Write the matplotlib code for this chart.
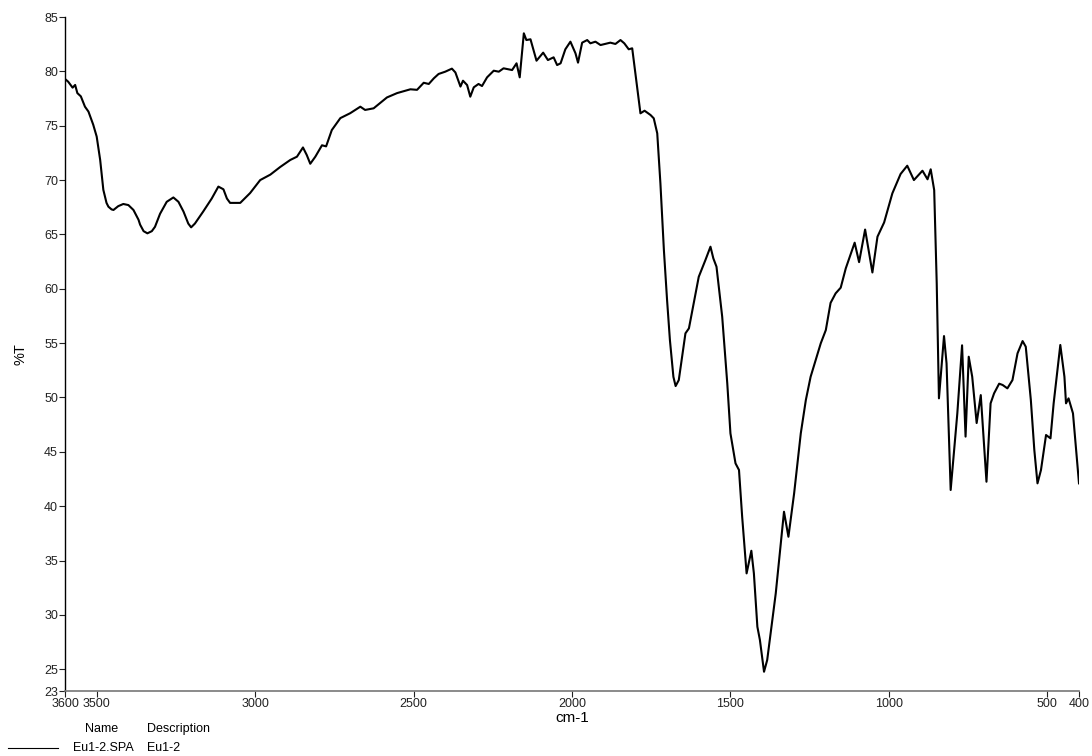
import matplotlib
matplotlib.use('Agg')
from matplotlib import pyplot as plt
from matplotlib.lines import Line2D

# wavenumber (cm-1) and transmittance (%T)
wavenumber = [
    3600, 3590, 3576, 3568, 3561, 3550, 3537, 3526, 3511, 3500,
    3489, 3479, 3469, 3463, 3453, 3447, 3432, 3416, 3400, 3384,
    3368, 3363, 3352, 3340, 3326, 3316, 3300, 3279, 3258, 3242,
    3226, 3211, 3202, 3190, 3164, 3137, 3116, 3100, 3089, 3079,
    3047, 3016, 2984, 2952, 2921, 2889, 2868, 2849, 2837, 2826,
    2810, 2789, 2776, 2758, 2731, 2700, 2668, 2653, 2626, 2584,
    2552, 2510, 2489, 2468, 2452, 2436, 2421, 2400, 2379, 2368,
    2352, 2344, 2331, 2321, 2310, 2295, 2284, 2268, 2247, 2231,
    2216, 2189, 2175, 2165, 2152, 2144, 2131, 2112, 2091, 2076,
    2058, 2047, 2036, 2021, 2005, 1989, 1981, 1968, 1952, 1942,
    1926, 1910, 1879, 1863, 1847, 1835, 1821, 1810, 1800, 1784,
    1771, 1752, 1742, 1731, 1721, 1710, 1700, 1691, 1680, 1673,
    1663, 1642, 1631, 1600, 1579, 1563, 1554, 1544, 1526, 1510,
    1500, 1484, 1473, 1463, 1449, 1434, 1426, 1415, 1407, 1394,
    1384, 1357, 1331, 1317, 1299, 1278, 1262, 1247, 1215, 1199,
    1184, 1168, 1152, 1136, 1108, 1094, 1075, 1052, 1036, 1015,
    989, 963, 942, 921, 894, 878, 868, 857, 849, 842,
    826, 818, 805, 784, 769, 758, 748, 737, 723, 710,
    692, 679, 668, 652, 641, 626, 610, 594, 578, 568,
    552, 541, 531, 520, 504, 490, 480, 459, 446, 441,
    433, 419, 409, 400,
]
transmittance = [
    79.3, 79.05, 78.5, 78.75, 78.0, 77.7, 76.75, 76.3, 75.1, 74.0,
    71.85, 69.1, 67.9, 67.55, 67.3, 67.25, 67.6, 67.8, 67.7, 67.25,
    66.35, 65.9, 65.3, 65.1, 65.3, 65.7, 66.9, 68.0, 68.4, 68.0,
    67.1, 66.0, 65.65, 66.0, 67.1, 68.3, 69.4, 69.15, 68.3, 67.9,
    67.9, 68.8, 70.0, 70.5, 71.2, 71.85, 72.15, 73.0, 72.3, 71.5,
    72.15, 73.2, 73.1, 74.6, 75.7, 76.15, 76.75, 76.45, 76.6, 77.6,
    78.0, 78.35, 78.3, 78.95, 78.84, 79.36, 79.76, 79.97, 80.25, 79.9,
    78.6, 79.14, 78.74, 77.67, 78.53, 78.84, 78.65, 79.45, 80.06, 79.97,
    80.28, 80.12, 80.74, 79.45, 83.5, 82.88, 82.95, 80.98, 81.72, 81.04,
    81.29, 80.58, 80.74, 82.03, 82.73, 81.66, 80.8, 82.64, 82.88, 82.58,
    82.73, 82.42, 82.64, 82.52, 82.88, 82.58, 82.03, 82.12, 79.82, 76.14,
    76.38, 75.98, 75.68, 74.3, 69.7, 63.56, 58.97, 55.28, 51.9, 51.05,
    51.6, 55.9, 56.36, 61.1, 62.64, 63.87, 62.8, 62.03, 57.43, 51.3,
    46.7, 43.94, 43.33, 39.03, 33.82, 35.9, 33.82, 28.91, 27.69, 24.77,
    25.85, 31.98, 39.49, 37.19, 41.18, 46.7, 49.77, 51.9, 54.98, 56.2,
    58.7, 59.58, 60.1, 61.88, 64.24, 62.45, 65.45, 61.5, 64.79, 66.1,
    68.78, 70.56, 71.32, 70.0, 70.86, 70.07, 70.99, 69.08, 60.5, 49.92,
    55.65, 53.14, 41.49, 48.54, 54.8, 46.4, 53.75, 51.91, 47.65, 50.22,
    42.25, 49.46, 50.38, 51.27, 51.15, 50.84, 51.6, 54.06, 55.19, 54.67,
    49.77, 45.17, 42.1, 43.33, 46.55, 46.24, 49.46, 54.83, 51.91, 49.46,
    49.92, 48.54, 45.17, 42.1,
]

x_ticks = [3600, 3500, 3000, 2500, 2000, 1500, 1000, 500, 400]
y_ticks = [23, 25, 30, 35, 40, 45, 50, 55, 60, 65, 70, 75, 80, 85]

plt.rcParams['font.family'] = ['Liberation Sans', 'DejaVu Sans']

W, H = 1092, 756
fig = plt.figure(figsize=(W / 100, H / 100), dpi=100)
ax = fig.add_axes([65 / W, 1 - 691 / H, (1079 - 65) / W, (691 - 17) / H])

ax.plot(wavenumber, transmittance, color='black', linewidth=1.5,
        solid_joinstyle='round')

ax.set_xlim(3600, 400)
ax.set_ylim(23, 85)
ax.set_xticks(x_ticks)
ax.set_yticks(y_ticks)
ax.tick_params(axis='both', direction='out', length=4, width=0.8,
               labelsize=9, pad=1, colors='#222222')

for side in ['top', 'right']:
    ax.spines[side].set_visible(False)
ax.spines['left'].set_linewidth(1.0)
ax.spines['bottom'].set_color('#777777')
ax.spines['bottom'].set_linewidth(1.2)

ax.set_xlabel('cm-1', fontsize=11, labelpad=1)
ax.set_ylabel('%T', fontsize=10.5, labelpad=12)

# legend-like header under the plot
fig.text(102 / W, 1 - 729 / H, 'Name', fontsize=9, ha='center', va='center')
fig.text(147 / W, 1 - 729 / H, 'Description', fontsize=9, ha='left', va='center')
fig.add_artist(Line2D([8 / W, 58 / W], [1 - 748 / H, 1 - 748 / H],
                      color='black', linewidth=0.8))
fig.text(73 / W, 1 - 748 / H, 'Eu1-2.SPA', fontsize=9, ha='left', va='center')
fig.text(147 / W, 1 - 748 / H, 'Eu1-2', fontsize=9, ha='left', va='center')

fig.savefig('out.png', dpi=100)
